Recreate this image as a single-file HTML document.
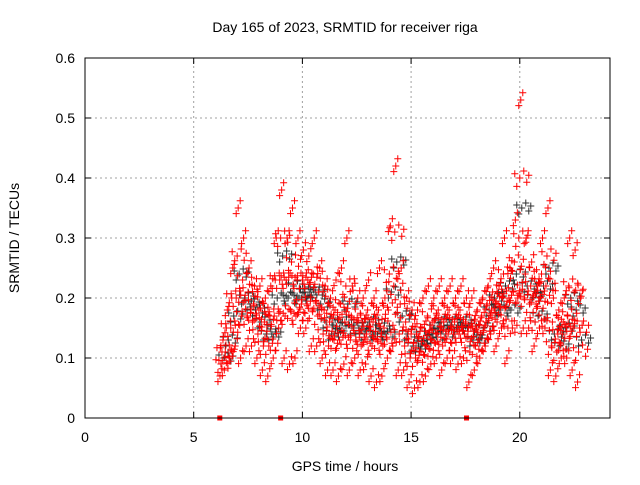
<!DOCTYPE html>
<html><head><meta charset="utf-8"><style>
body{margin:0;background:#fff}
svg text{font-family:"Liberation Sans",sans-serif;font-size:14px;fill:#000}
</style></head><body>
<svg id="c" width="640" height="480">
<rect width="640" height="480" fill="#fff"/>
<g id="grid"></g><g id="marks"></g><g id="axes"></g>
<text x="345" y="32" text-anchor="middle">Day 165 of 2023, SRMTID for receiver riga</text>
<text x="345" y="471" text-anchor="middle">GPS time / hours</text>
<text x="0" y="0" transform="translate(19,238) rotate(-90)" text-anchor="middle">SRMTID / TECUs</text>
</svg>
<script>
const times=[6.3,6.5,6.75,7.0,7.25,7.5,7.75,8.0,8.25,8.5,8.75,9.0,9.25,9.5,9.75,10.0,10.25,10.5,10.75,11.0,11.25,11.5,11.75,12.0,12.25,12.5,12.75,13.0,13.25,13.5,13.75,14.0,14.25,14.5,14.75,15.0,15.25,15.5,15.75,16.0,16.25,16.5,16.75,17.0,17.25,17.5,17.75,18.0,18.25,18.5,18.75,19.0,19.25,19.5,19.75,20.0,20.25,20.5,20.75,21.0,21.25,21.5,21.75,22.0,22.25,22.5,22.75];
const lowVals=[0.07,0.08,0.10,0.12,0.10,0.12,0.12,0.10,0.08,0.07,0.10,0.15,0.10,0.09,0.10,0.15,0.15,0.12,0.12,0.10,0.08,0.08,0.07,0.09,0.08,0.10,0.08,0.09,0.07,0.06,0.07,0.10,0.12,0.08,0.08,0.06,0.05,0.06,0.07,0.09,0.10,0.08,0.10,0.10,0.09,0.10,0.06,0.08,0.10,0.12,0.14,0.12,0.15,0.10,0.15,0.20,0.15,0.15,0.12,0.15,0.15,0.08,0.07,0.10,0.10,0.08,0.06];
const midAVals=[0.09,0.11,0.15,0.20,0.17,0.17,0.16,0.14,0.12,0.12,0.17,0.23,0.17,0.18,0.17,0.19,0.19,0.18,0.17,0.14,0.12,0.13,0.13,0.16,0.13,0.13,0.12,0.14,0.12,0.13,0.12,0.18,0.22,0.14,0.12,0.10,0.10,0.11,0.12,0.13,0.14,0.12,0.14,0.14,0.14,0.14,0.11,0.12,0.14,0.16,0.18,0.16,0.20,0.15,0.21,0.30,0.20,0.19,0.16,0.20,0.22,0.12,0.11,0.14,0.17,0.15,0.11];
const midBVals=[0.11,0.15,0.20,0.27,0.23,0.21,0.19,0.18,0.16,0.17,0.23,0.30,0.23,0.26,0.23,0.23,0.23,0.24,0.21,0.18,0.16,0.18,0.19,0.22,0.17,0.16,0.16,0.18,0.16,0.18,0.15,0.24,0.31,0.19,0.16,0.14,0.14,0.15,0.17,0.16,0.18,0.16,0.18,0.16,0.18,0.16,0.15,0.15,0.17,0.19,0.21,0.19,0.24,0.20,0.26,0.40,0.24,0.22,0.19,0.24,0.27,0.16,0.14,0.16,0.22,0.21,0.15];
const highVals=[0.13,0.18,0.25,0.35,0.30,0.25,0.22,0.22,0.20,0.22,0.30,0.38,0.30,0.35,0.30,0.28,0.27,0.30,0.25,0.22,0.20,0.23,0.25,0.30,0.22,0.20,0.20,0.23,0.20,0.25,0.20,0.32,0.42,0.25,0.20,0.18,0.18,0.20,0.22,0.20,0.22,0.20,0.22,0.20,0.22,0.20,0.20,0.18,0.20,0.22,0.25,0.22,0.30,0.25,0.33,0.53,0.30,0.26,0.22,0.30,0.35,0.20,0.18,0.20,0.30,0.28,0.20];
const darkVals=[0.10,0.13,0.17,0.24,0.20,0.19,0.18,0.16,0.14,0.14,0.20,0.27,0.20,0.22,0.20,0.21,0.21,0.21,0.19,0.16,0.14,0.15,0.16,0.19,0.15,0.15,0.14,0.16,0.14,0.15,0.14,0.21,0.26,0.17,0.14,0.12,0.12,0.13,0.14,0.15,0.16,0.14,0.16,0.15,0.16,0.15,0.13,0.13,0.15,0.18,0.20,0.18,0.22,0.18,0.24,0.35,0.22,0.20,0.17,0.22,0.25,0.14,0.12,0.15,0.20,0.18,0.13];
const zeroTimes=[6.2,9.0,17.55];
const xTicks=[0,5,10,15,20];
const yTicks=[0,0.1,0.2,0.3,0.4,0.5,0.6];

const X0=85,X1=610,Y0=418,Y1=58;
const xs=t=>X0+t*(X1-X0)/24.15;
const ys=v=>Y0-v*(Y0-Y1)/0.6;
const NS='http://www.w3.org/2000/svg';
function mk(tag,attrs,parent){const e=document.createElementNS(NS,tag);for(const k in attrs)e.setAttribute(k,attrs[k]);parent.appendChild(e);return e;}
const grid=document.getElementById('grid'),axes=document.getElementById('axes'),marks=document.getElementById('marks');
yTicks.forEach(v=>{
  const y=ys(v);
  if(v>0&&v<0.6){const l=mk('line',{x1:X0,x2:X1,y1:y,y2:y,stroke:'#a0a0a0','stroke-dasharray':'2,3'},grid);
  
  }
  mk('line',{x1:X0,x2:X0+6,y1:y,y2:y,stroke:'#000'},axes);
  mk('line',{x1:X1,x2:X1-6,y1:y,y2:y,stroke:'#000'},axes);
  const t=mk('text',{x:X0-10,y:y+5,'text-anchor':'end'},axes);t.textContent=v===0?'0':v.toFixed(1);
  
  
});
xTicks.forEach(v=>{
  const x=xs(v);
  if(v>0){const l=mk('line',{x1:x,x2:x,y1:Y0,y2:Y1,stroke:'#a0a0a0','stroke-dasharray':'2,3'},grid);
  
  }
  mk('line',{x1:x,x2:x,y1:Y0,y2:Y0-6,stroke:'#000'},axes);
  mk('line',{x1:x,x2:x,y1:Y1,y2:Y1+6,stroke:'#000'},axes);
  const t=mk('text',{x:x,y:Y0+24,'text-anchor':'middle'},axes);t.textContent=String(v);
  
  
});
const frame=mk('rect',{x:X0,y:Y1,width:X1-X0,height:Y0-Y1,fill:'none',stroke:'#000'},axes);


const jit=[[0,0],[4,-5],[-3,6],[7,3],[-5,-3],[9,-2]];
const jitEdge=[[0,0],[2,-9],[-2,7]];
function plus(x,y,col){
  const p=mk('path',{d:`M${x-3.5},${y}h7M${x},${y-3.5}v7`,stroke:col,'stroke-width':1,fill:'none'},marks);
  
  
}
times.forEach((t,i)=>{
  const x=xs(t),y=ys(darkVals[i]);
  jit.forEach(j=>plus(x+j[0]+2,y+j[1],'#303030'));
});
[lowVals,midAVals,midBVals,highVals].forEach((arr,k)=>{
  const edge=(k===0||k===3);
  times.forEach((t,i)=>{
    const x=xs(t),y=ys(arr[i]);
    (edge?jitEdge:jit).forEach(j=>plus(x+j[0]-2+k,y+j[1]*(edge?0.8:1.4),'#ff0000'));
  });
});
zeroTimes.forEach(t=>{
  const r=mk('rect',{x:xs(t)-2.5,y:Y0-2.5,width:5,height:5,fill:'#ff0000'},marks);
  
  
});
</script>
</body></html>
